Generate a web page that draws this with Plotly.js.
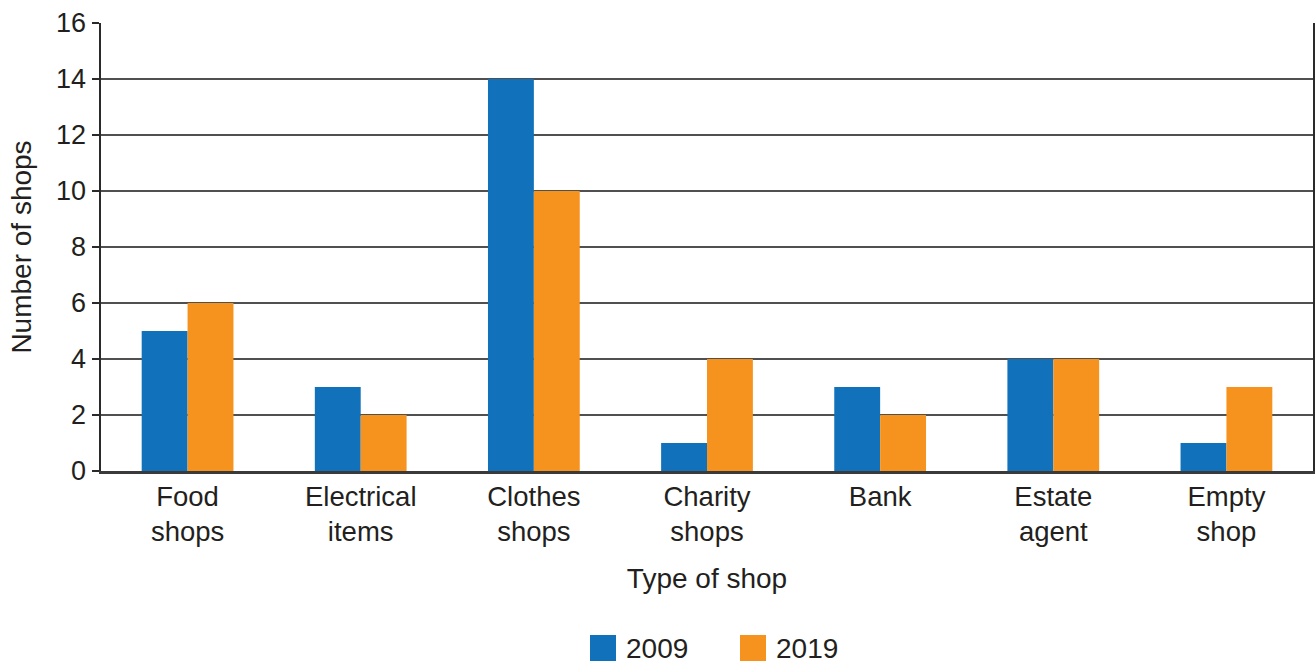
<!DOCTYPE html>
<html><head><meta charset="utf-8">
<script src="https://cdn.plot.ly/plotly-3.0.1.min.js"></script>
<style>html,body{margin:0;padding:0;background:#fff}#chart{width:1315px;height:664px}</style>
</head><body><div id="chart"></div>
<script>
const categories = ["Food<br>shops", "Electrical<br>items", "Clothes<br>shops", "Charity<br>shops", "Bank", "Estate<br>agent", "Empty<br>shop"];
const values2009 = [5, 3, 14, 1, 3, 4, 1];
const values2019 = [6, 2, 10, 4, 2, 4, 3];
const yTicks = [0, 2, 4, 6, 8, 10, 12, 14, 16];
const seriesNames = ["2009", "2019"];
const seriesColors = ["#1172bb", "#f6921e"];

const font = {family: "Liberation Sans, Arial, sans-serif", color: "#231f20"};
const f = s => Object.assign({size: s}, font);
const data = [
  {type: "bar", name: seriesNames[0], x: categories, y: values2009, marker: {color: seriesColors[0]}},
  {type: "bar", name: seriesNames[1], x: categories, y: values2019, marker: {color: seriesColors[1]}}
];

// legend drawn as paper-positioned squares + labels (plot area: x 101..1313, y 23..471)
const PL = 101, PR = 1313, PT = 23, PB = 471;
const px = v => (v - PL) / (PR - PL);
const py = v => (PB - v) / (PB - PT);
const legendX = [590, 740];
const shapes = [], annotations = [];
seriesNames.forEach((n, i) => {
  shapes.push({type: "rect", xref: "paper", yref: "paper",
    x0: px(legendX[i]), x1: px(legendX[i] + 26), y0: py(661), y1: py(635),
    fillcolor: seriesColors[i], line: {width: 0}});
  annotations.push({xref: "paper", yref: "paper", x: px(legendX[i] + 34), y: py(648),
    xanchor: "left", yanchor: "middle", text: n, showarrow: false, font: f(28)});
});

const layout = {
  width: 1315, height: 664,
  margin: {l: PL, r: 1315 - PR, t: PT, b: 664 - PB, autoexpand: false},
  font: f(27),
  barmode: "group", bargap: 0.47, bargroupgap: 0,
  plot_bgcolor: "#fff", paper_bgcolor: "#fff",
  showlegend: false,
  xaxis: {
    type: "category", showline: true, linecolor: "#3a3a3a", linewidth: 2.5,
    ticks: "", tickfont: f(27.5), ticklabelstandoff: -1, automargin: false,
    title: {text: "Type of shop", font: f(28), standoff: 22}
  },
  yaxis: {
    range: [0, 16], tickvals: yTicks, ticktext: yTicks.map(String),
    showgrid: true, gridcolor: "#505050", gridwidth: 1.6,
    showline: true, linecolor: "#2a2a2a", linewidth: 2.5, mirror: true,
    ticks: "outside", ticklen: 7, tickwidth: 2, tickcolor: "#2a2a2a",
    tickfont: f(27), zeroline: false, automargin: false,
    title: {text: "Number of shops", font: f(28), standoff: 17}
  },
  shapes: shapes,
  annotations: annotations
};
Plotly.newPlot("chart", data, layout, {displayModeBar: false, staticPlot: true});
</script></body></html>
